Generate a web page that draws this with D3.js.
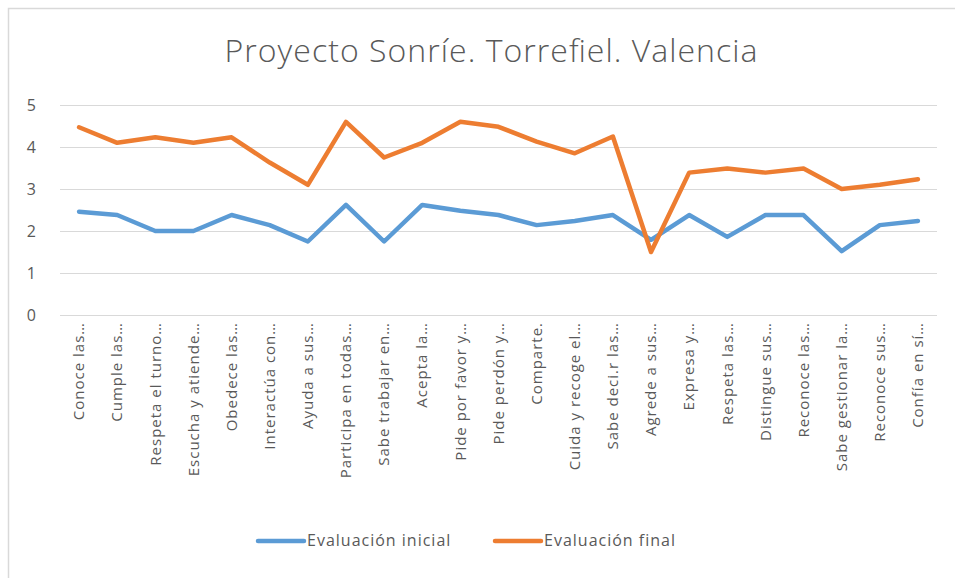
<!DOCTYPE html>
<html><head><meta charset="utf-8">
<script src="https://cdn.jsdelivr.net/npm/d3@7/dist/d3.min.js"></script>
<style>body{margin:0;background:#fff;font-family:"Open Sans",sans-serif;}</style>
</head><body>
<svg id="c" width="955" height="578"></svg>
<script>
const categories = ["Conoce las…","Cumple las…","Respeta el turno…","Escucha y atiende…","Obedece las…","Interactúa con…","Ayuda a sus…","Participa en todas…","Sabe trabajar en…","Acepta la…","Pide por favor y…","Pide perdón y…","Comparte.","Cuida y recoge el…","Sabe deci.r las…","Agrede a sus…","Expresa y…","Respeta las…","Distingue sus…","Reconoce las…","Sabe gestionar la…","Reconoce sus…","Confía en sí…"];
const inicial = [2.46,2.38,2.0,2.0,2.38,2.14,1.75,2.62,1.75,2.62,2.48,2.38,2.14,2.24,2.38,1.79,2.38,1.86,2.38,2.38,1.52,2.14,2.24];
const final_ = [4.47,4.1,4.23,4.1,4.23,3.63,3.1,4.6,3.75,4.1,4.6,4.48,4.13,3.85,4.25,1.5,3.39,3.49,3.39,3.49,3.0,3.1,3.23];
const yTicks = [0,1,2,3,4,5];
const seriesNames = ["Evaluación inicial","Evaluación final"];
const colors = ["#5b9bd5","#ed7d31"];

const svg = d3.select("#c");
const txt = "#595959";
// chart border
svg.append("path").attr("d","M8.5,580 L8.5,8.5 L960,8.5").attr("fill","none").attr("stroke","#d9d9d9").attr("stroke-width",1.5);

const x = d3.scaleBand().domain(categories).range([60,937]);
const y = d3.scaleLinear().domain([0,5]).range([315,105]);

// title
svg.append("text").attr("x",491).attr("y",62).attr("text-anchor","middle")
  .attr("font-size",32).attr("fill",txt).attr("font-weight",300)
  .attr("textLength",533).attr("lengthAdjust","spacing")
  .text("Proyecto Sonríe. Torrefiel. Valencia");

// grid
const g = svg.append("g");
g.selectAll("line.grid").data(yTicks).join("line").attr("class","grid")
  .attr("x1",60).attr("x2",937).attr("y1",d=>y(d)+0.5).attr("y2",d=>y(d)+0.5)
  .attr("stroke","#d9d9d9").attr("stroke-width",1);

// y axis labels
const ya = svg.append("g").attr("transform","translate(38,0)")
  .call(d3.axisLeft(y).tickValues(yTicks).tickFormat(d3.format("d")).tickSize(0).tickPadding(2));
ya.select(".domain").remove();
ya.selectAll("text").attr("font-size",16).attr("fill",txt).attr("font-family","Open Sans, sans-serif");

// x axis labels
const xa = svg.append("g").attr("transform","translate(0,315)")
  .call(d3.axisBottom(x).tickSize(0));
xa.select(".domain").remove();
xa.selectAll("text").attr("font-size",15).attr("letter-spacing","1px").attr("fill",txt).attr("font-family","Open Sans, sans-serif")
  .attr("transform","rotate(-90)").attr("text-anchor","end").attr("dy","0.35em").attr("x",-7).attr("y",0);

// lines
const line = d3.line().x((d,i)=>x(categories[i])+x.bandwidth()/2).y(d=>y(d));
[inicial, final_].forEach((s,k)=>{
  svg.append("path").datum(s).attr("d",line).attr("fill","none")
    .attr("stroke",colors[k]).attr("stroke-width",4.5).attr("stroke-linejoin","round").attr("stroke-linecap","round");
});

// legend
const lg = [{x:258,c:colors[0],t:seriesNames[0]},{x:495,c:colors[1],t:seriesNames[1]}];
lg.forEach(d=>{
  svg.append("line").attr("x1",d.x).attr("x2",d.x+46).attr("y1",541).attr("y2",541)
    .attr("stroke",d.c).attr("stroke-width",4.5).attr("stroke-linecap","round");
  svg.append("text").attr("x",d.x+49).attr("y",546).attr("font-size",16).attr("letter-spacing","1px").attr("fill",txt).text(d.t);
});
</script>
</body></html>
